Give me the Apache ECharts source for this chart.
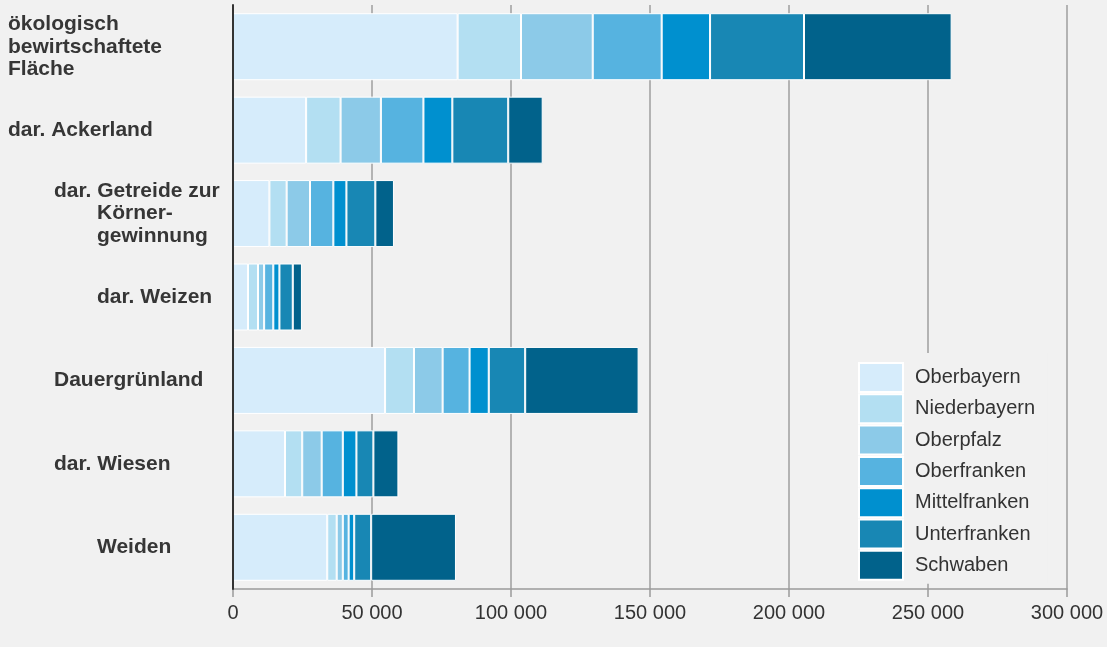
<!DOCTYPE html>
<html>
<head>
<meta charset="utf-8">
<title>Ökologisch bewirtschaftete Fläche nach Regierungsbezirken</title>
<script src="https://cdn.jsdelivr.net/npm/echarts@6/dist/echarts.min.js"></script>
<style>
  html, body { margin: 0; padding: 0; background: #f1f1f1; }
  #chart { width: 1107px; height: 647px; }
</style>
</head>
<body>
<div id="chart"></div>
<script>
// Land use categories (top to bottom)
const categories = [
  'ökologisch bewirtschaftete Fläche',
  'dar. Ackerland',
  'dar. Getreide zur Körnergewinnung',
  'dar. Weizen',
  'Dauergrünland',
  'dar. Wiesen',
  'Weiden'
];

// Each label line: [indent level, text]
const labelLines = [
  [[0, 'ökologisch'], [0, 'bewirtschaftete'], [0, 'Fläche']],
  [[0, 'dar. Ackerland']],
  [[1, 'dar. Getreide zur'], [2, 'Körner-'], [2, 'gewinnung']],
  [[2, 'dar. Weizen']],
  [[1, 'Dauergrünland']],
  [[1, 'dar. Wiesen']],
  [[2, 'Weiden']]
];

// Area in hectares per district
const oberbayern    = [80800, 26300, 13100, 5400, 54700, 18700, 33900];
const niederbayern  = [22800, 12400,  6200, 3600, 10400,  6200,  3400];
const oberpfalz     = [25800, 14500,  8400, 2200, 10300,  7000,  2200];
const oberfranken   = [24800, 15300,  8400, 3300,  9700,  7600,  2100];
const mittelfranken = [17400, 10400,  4700, 2200,  6900,  4900,  2000];
const unterfranken  = [33800, 20100, 10400, 4800, 13100,  6100,  6100];
const schwaben      = [53100, 12400,  6700, 3300, 40800,  9000, 30500];

const districts = [
  ['Oberbayern', oberbayern, '#d6ecfb'],
  ['Niederbayern', niederbayern, '#b3dff2'],
  ['Oberpfalz', oberpfalz, '#8ccae8'],
  ['Oberfranken', oberfranken, '#56b3e0'],
  ['Mittelfranken', mittelfranken, '#0090cf'],
  ['Unterfranken', unterfranken, '#1887b4'],
  ['Schwaben', schwaben, '#01628b']
];

const xTicks = { min: 0, max: 300000, step: 50000 };

function fmtThousands(v) {
  return String(v).replace(/\B(?=(\d{3})+(?!\d))/g, ' ');
}

const labelFont = {
  fontFamily: 'Liberation Sans, Arial, sans-serif',
  fontWeight: 'bold',
  fontSize: 21,
  lineHeight: 22.5,
  color: '#363636'
};

const chart = echarts.init(document.getElementById('chart'), null, { renderer: 'canvas' });

chart.setOption({
  backgroundColor: '#f1f1f1',
  animation: false,
  grid: { left: 233, right: 40, top: 5, bottom: 58, containLabel: false },
  legend: {
    orient: 'vertical',
    left: 848,
    top: 353,
    padding: [9, 12, 3, 10],
    backgroundColor: '#f1f1f1',
    itemWidth: 44,
    itemHeight: 29,
    itemGap: 0.3,
    icon: 'rect',
    textStyle: {
      fontFamily: 'Liberation Sans, Arial, sans-serif',
      fontSize: 20,
      color: '#333',
      padding: [0, 0, 0, 7]
    },
    data: districts.map(d => d[0])
  },
  xAxis: {
    type: 'value',
    min: xTicks.min,
    max: xTicks.max,
    interval: xTicks.step,
    axisLine: { show: true, lineStyle: { color: '#9a9a9a', width: 1.5 } },
    axisTick: { show: true, length: 8, lineStyle: { color: '#9a9a9a', width: 1.5 } },
    splitLine: { show: true, lineStyle: { color: '#b3b3b3', width: 2 } },
    axisLabel: {
      margin: 14,
      fontFamily: 'Liberation Sans, Arial, sans-serif',
      fontSize: 20,
      color: '#333',
      formatter: v => fmtThousands(v)
    }
  },
  yAxis: {
    type: 'category',
    inverse: true,
    z: 5,
    data: categories,
    axisLine: { show: true, lineStyle: { color: '#333', width: 2 } },
    axisTick: { show: false },
    axisLabel: {
      align: 'left',
      margin: 225,
      formatter: value => {
        const lines = labelLines[categories.indexOf(value)];
        return lines.map(([lvl, t]) => (lvl ? '{s' + lvl + '| }' : '') + '{t|' + t + '}').join('\n');
      },
      rich: {
        t: labelFont,
        s1: Object.assign({}, labelFont, { width: 46 }),
        s2: Object.assign({}, labelFont, { width: 89 })
      }
    }
  },
  series: districts.map(([name, values, color]) => ({
    name: name,
    type: 'bar',
    stack: 'flaeche',
    barWidth: 67,
    data: values,
    itemStyle: { color: color, borderColor: '#ffffff', borderWidth: 1 }
  }))
});
</script>
</body>
</html>
